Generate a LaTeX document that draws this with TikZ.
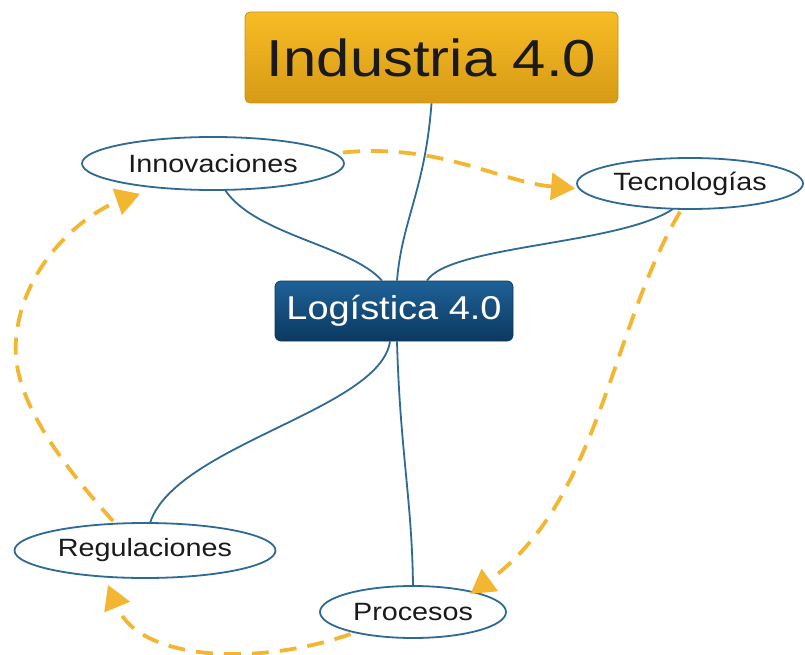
\documentclass[tikz,border=0pt]{standalone}
\usepackage{fontspec}
\setmainfont{Liberation Sans}[FakeStretch=1.15]
\usetikzlibrary{arrows.meta,shapes.geometric}
\definecolor{goldtop}{HTML}{F8BC26}
\definecolor{goldbot}{HTML}{D69A16}
\definecolor{goldedge}{HTML}{C99214}
\definecolor{bluetop}{HTML}{1F6197}
\definecolor{bluebot}{HTML}{0B3960}
\definecolor{linkblue}{HTML}{2E6A93}
\definecolor{flow}{HTML}{F3B630}
\definecolor{txt}{HTML}{1A1A1A}
\tikzset{
  indbox/.style={rectangle, rounded corners=5pt, draw=goldedge, line width=0.8pt,
    top color=goldtop, bottom color=goldbot, text=txt, inner sep=0pt,
    minimum width=373pt, minimum height=91pt, font=\fontsize{52}{60}\selectfont},
  logbox/.style={rectangle, rounded corners=6pt, draw=bluebot, line width=0.8pt,
    top color=bluetop, bottom color=bluebot, text=white, inner sep=0pt,
    minimum width=238pt, minimum height=60pt, font=\fontsize{33}{38}\selectfont},
  ell/.style={ellipse, draw=linkblue, line width=1.8pt, fill=white, text=txt,
    inner sep=0pt, font=\fontsize{25}{30}\selectfont},
  link/.style={draw=linkblue, line width=1.8pt},
  flowarrow/.style={draw=flow, line width=3.8pt, dash pattern=on 17pt off 11pt,
    -{Triangle[length=24pt,width=27pt]}, color=flow},
}
\begin{document}
\begin{tikzpicture}[x=1pt,y=-1pt]
\useasboundingbox[fill=white] (0,0) rectangle (805,655);

\node[indbox] (ind) at (431.5,57.5) {Industria 4.0};
\node[logbox] (log) at (394,311) {Logística 4.0};
\node[ell, minimum width=262pt, minimum height=53pt] (inn) at (213,163.5) {Innovaciones};
\node[ell, minimum width=226pt, minimum height=51pt] (tec) at (690,183.5) {Tecnologías};
\node[ell, minimum width=261pt, minimum height=55pt] (reg) at (145,550.5) {Regulaciones};
\node[ell, minimum width=186pt, minimum height=52pt] (pro) at (413,612) {Procesos};

\draw[link] (ind.south) .. controls (425,190) and (402,220) .. ([xshift=3pt]log.north);
\draw[link] ([xshift=12pt,yshift=1pt]inn.south) .. controls (255,235) and (350,245) .. ([xshift=-12pt]log.north);
\draw[link] ([xshift=-17pt,yshift=1pt]tec.south) .. controls (620,245) and (450,245) .. ([xshift=33pt]log.north);
\draw[link] ([xshift=-4pt]log.south) .. controls (380,410) and (175,445) .. ([xshift=5pt,yshift=-1pt]reg.north);
\draw[link] ([xshift=3pt]log.south) .. controls (400,450) and (412,500) .. ([yshift=-1pt]pro.north);

\coordinate (a1) at ([xshift=-1pt,yshift=-5pt]tec.west);
\draw[flowarrow] ([xshift=-2pt,yshift=11pt]inn.east) .. controls (440,143) and (500,182) .. (a1);
\coordinate (a2) at ([xshift=-9pt,yshift=-1pt]pro.north east);
\draw[flowarrow] ([xshift=-10pt,yshift=-2pt]tec.south) .. controls (610,330) and (600,500) .. (a2);
\coordinate (a3) at ([xshift=-37pt,yshift=-6pt]reg.south);
\draw[flowarrow] ([xshift=4pt,yshift=-3pt]pro.south west) .. controls (260,666) and (140,662) .. (a3);
\coordinate (a4) at ([xshift=-73pt,yshift=-3pt]inn.south);
\draw[flowarrow] ([xshift=-32pt,yshift=1pt]reg.north) .. controls (40,440) and (12,385) .. (16,340) .. controls (22,262) and (88,212) .. (a4);
\end{tikzpicture}
\end{document}
